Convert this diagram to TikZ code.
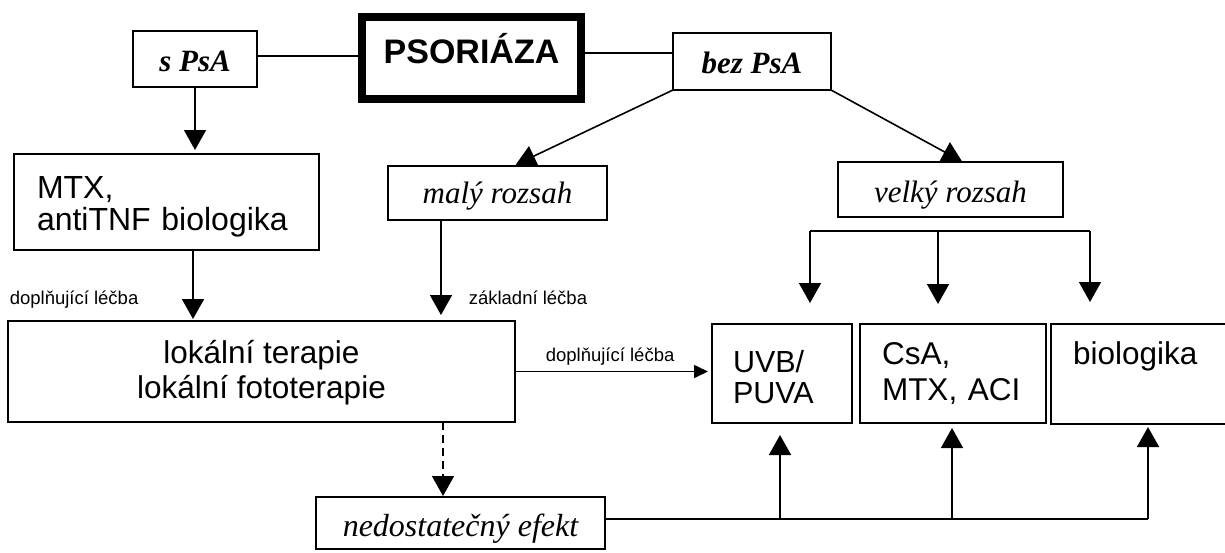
\documentclass[tikz,border=0pt]{standalone}
\usepackage{fontspec}
\setmainfont{Liberation Sans}
\newfontfamily\tmsfam{Liberation Serif}
\newcommand\psofont{\bfseries\fontsize{34}{38}\selectfont}
\newcommand\serfont{\tmsfam\fontsize{31}{36}\selectfont}
\newcommand\nedfont{\tmsfam\fontsize{32}{36}\selectfont}
\newcommand\mtxfont{\fontsize{32}{32}\selectfont}
\newcommand\lokfont{\fontsize{31.5}{35}\selectfont}
\newcommand\uvbfont{\fontsize{30.5}{31}\selectfont}
\newcommand\csafont{\fontsize{31.5}{36}\selectfont}
\newcommand\biofont{\fontsize{31.5}{36}\selectfont}
\newcommand\labfont{\fontsize{18.5}{20}\selectfont}
\usetikzlibrary{arrows.meta}
\begin{document}
\begin{tikzpicture}[x=1pt,y=-1pt,line width=1.6pt,
  box/.style={draw,line width=1.6pt,inner sep=0pt,outer sep=0pt,anchor=center},
  arr/.style={-{Triangle[length=20pt,width=22pt]}},
  sarr/.style={-{Triangle[length=14pt,width=13pt]}},
  lab/.style={inner sep=0pt,anchor=base west,font=\labfont}]
\useasboundingbox (0,0) rectangle (1225,552);

\node[box,line width=8pt,minimum width=219pt,minimum height=82pt,text height=10pt,text depth=0pt,font=\psofont] (psor) at (471.5,58) {PSORIÁZA\hspace{18pt}};
\node[box,minimum width=124pt,minimum height=56pt,text height=24pt,text depth=0pt,font=\serfont] (spsa) at (195,59) {\bfseries\itshape s PsA\hspace{12pt}};
\node[box,minimum width=158pt,minimum height=57pt,text height=23pt,text depth=0pt,font=\serfont] (bez) at (752,61.5) {\bfseries\itshape bez PsA\hspace{13pt}};
\node[box,minimum width=305pt,minimum height=96pt,text width=259pt,inner xsep=23pt,align=left,font=\mtxfont] (mtx) at (166.5,202) {\rule{0pt}{30.7pt}MTX,\\antiTNF biologika};
\node[box,minimum width=219pt,minimum height=54pt,text height=20pt,text depth=0pt,font=\serfont] (maly) at (497.5,193) {\itshape malý rozsah\hspace{12pt}};
\node[box,minimum width=225pt,minimum height=55pt,text height=25pt,text depth=0pt,font=\serfont] (velky) at (950.5,189.5) {\itshape velký rozsah\hspace{28pt}};
\node[box,minimum width=507pt,minimum height=101pt,align=center,font=\lokfont] (lok) at (261.5,371.5) {\rule{0pt}{24.6pt}lokální terapie\\lokální fototerapie};
\node[box,minimum width=140pt,minimum height=99pt,text width=98pt,inner xsep=21pt,align=left,font=\uvbfont] (uvb) at (782,373.5) {\rule{0pt}{28.5pt}UVB/\\PUVA};
\node[box,minimum width=186pt,minimum height=99pt,text width=142pt,inner xsep=22pt,align=left,font=\csafont] (csa) at (953,373.5) {CsA,\\MTX, ACI};
\node[box,minimum width=177pt,minimum height=100pt,text width=133pt,inner xsep=22pt,align=left,text height=0pt,text depth=20pt,font=\biofont] (bio) at (1139.5,374) {biologika};
\node[box,minimum width=289pt,minimum height=52pt,text height=26pt,text depth=0pt,font=\nedfont] (ned) at (460.5,523) {\itshape nedostatečný efekt\hspace{22pt}};

\node[lab] (l1) at (9,304) {doplňující léčba};
\node[lab] (l2) at (468,304) {základní léčba};
\node[lab] (l3) at (545,361) {doplňující léčba};

\coordinate (b1) at (810,231);
\coordinate (b2) at (938,231);
\coordinate (b3) at (1090,231);
\coordinate (j1) at (780,519);
\coordinate (j2) at (952,519);
\coordinate (j3) at (1148,519);

\draw ([yshift=3pt]spsa.east) -- ([yshift=3pt]spsa.east -| psor.west);
\draw ([yshift=5pt]psor.east) -- ([yshift=5pt]psor.east -| bez.west);
\draw[arr,shorten >=4pt] (spsa.south) -- (spsa.south |- mtx.north);
\draw[arr,shorten >=3pt] (bez.south west) -- ([xshift=15.5pt]maly.north);
\draw[arr,shorten >=1pt] (bez.south east) -- ([xshift=12.5pt]velky.north);
\draw[arr,shorten >=2pt] ([xshift=26.5pt]mtx.south) -- ([xshift=26.5pt]mtx.south |- lok.north);
\draw[arr,shorten >=6pt] ([xshift=-56.5pt]maly.south) -- ([xshift=-56.5pt]maly.south |- lok.north);
\draw[sarr,shorten >=4pt] (lok.east) -- (lok.east -| uvb.west);
\draw[arr,dash pattern=on 8pt off 5pt,shorten >=1pt] ([xshift=181.5pt]lok.south) -- ([xshift=181.5pt]lok.south |- ned.north);

\draw (b1) -- (b3);
\draw[arr,shorten >=21pt] (b1) -- (b1 |- uvb.north);
\draw[arr,shorten >=20pt] (b2) -- (b2 |- csa.north);
\draw[arr,shorten >=22pt] (b3) -- (b3 |- bio.north);

\draw (ned.east |- j1) -- (j3);
\draw[arr,shorten >=12pt] (j1) -- (j1 |- uvb.south);
\draw[arr,shorten >=5pt] (j2) -- (j2 |- csa.south);
\draw[arr,shorten >=3pt] (j3) -- (j3 |- bio.south);
\end{tikzpicture}
\end{document}
